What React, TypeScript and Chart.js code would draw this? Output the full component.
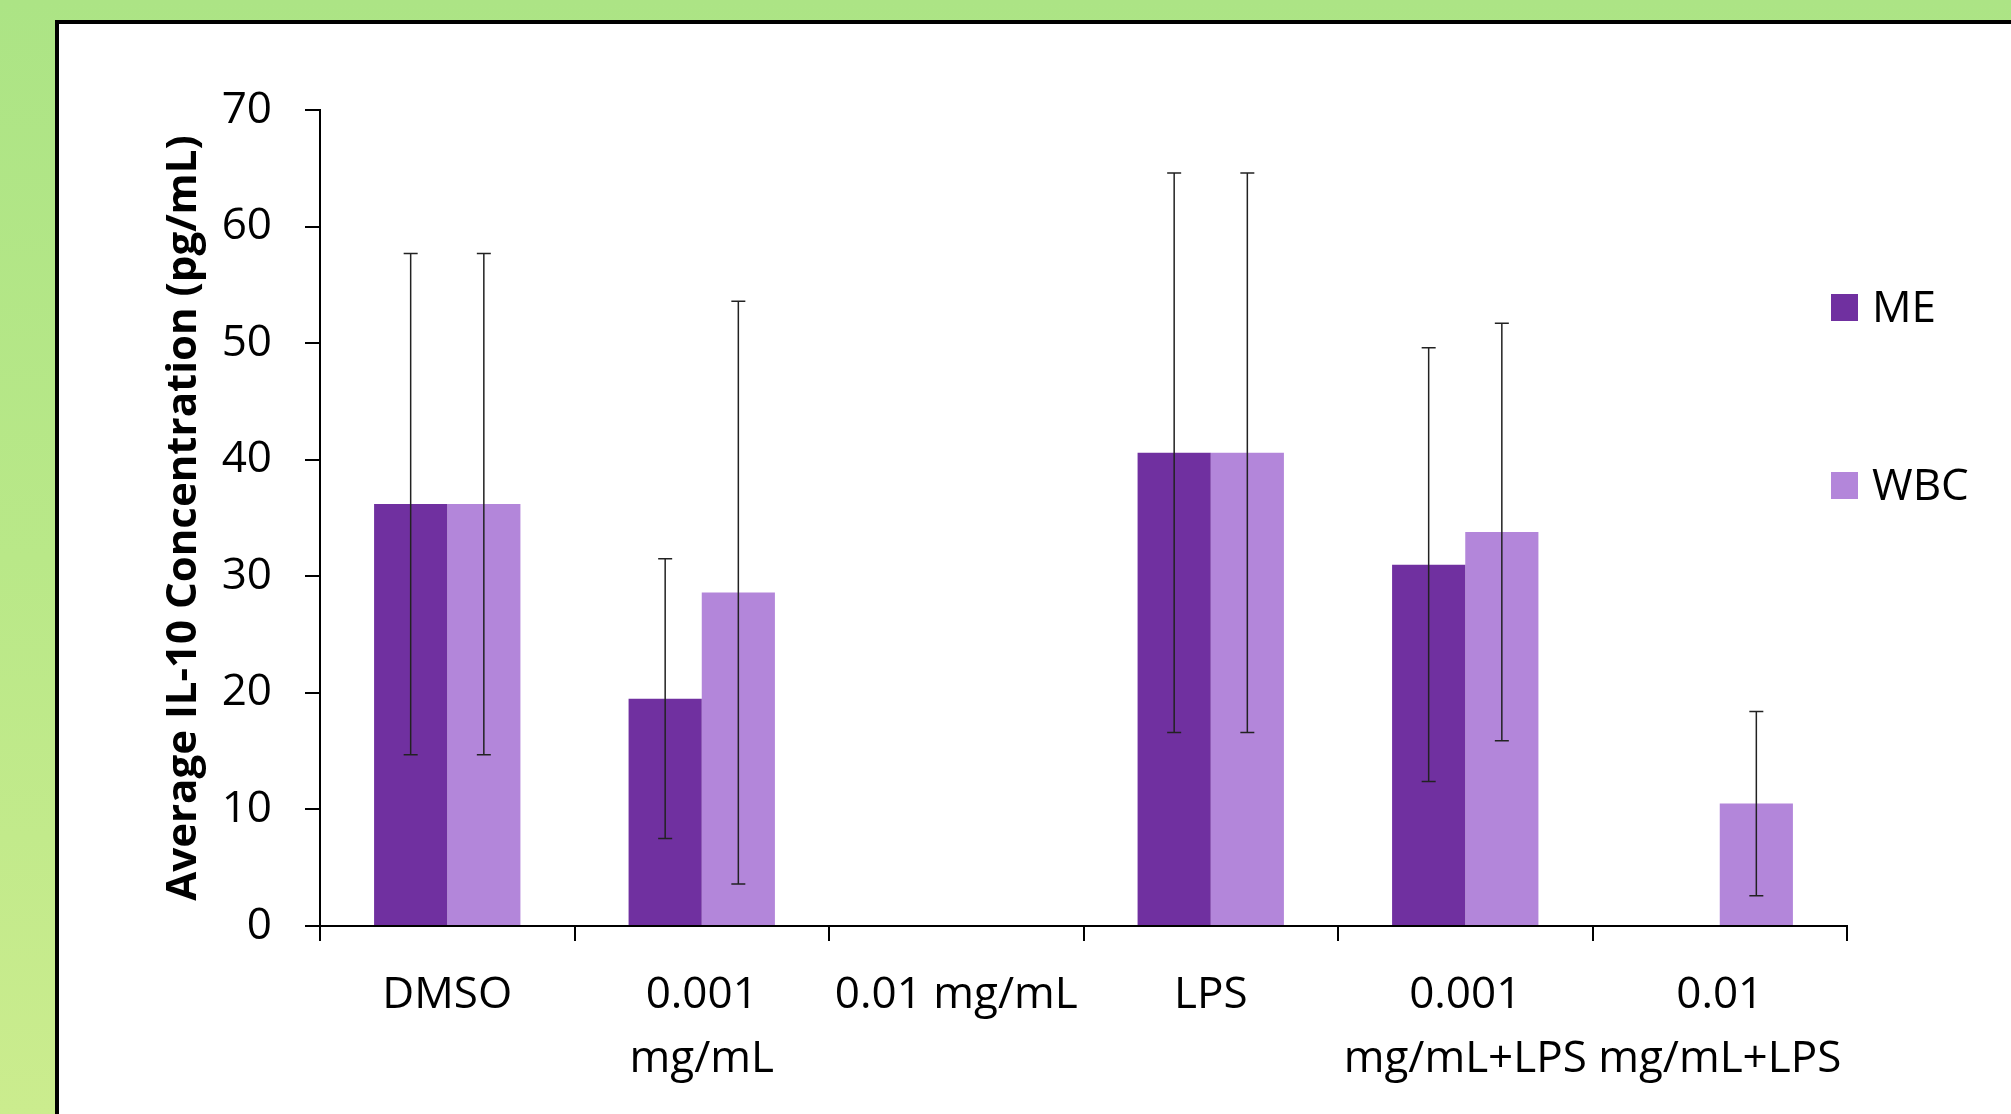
import React, { useEffect, useRef } from "react";
import { Chart, registerables } from "chart.js";

Chart.register(...registerables);

const categories: (string | string[])[] = [
  "DMSO",
  ["0.001", "mg/mL"],
  "0.01 mg/mL",
  "LPS",
  ["0.001", "mg/mL+LPS"],
  ["0.01", "mg/mL+LPS"],
];
const seriesNames = ["ME", "WBC"];
const meValues = [36.2, 19.5, null, 40.6, 31.0, null];
const meErrors = [21.5, 12.0, null, 24.0, 18.6, null];
const wbcValues = [36.2, 28.6, null, 40.6, 33.8, 10.5];
const wbcErrors = [21.5, 25.0, null, 24.0, 17.9, 7.9];
const yTicks = [0, 10, 20, 30, 40, 50, 60, 70];
const yTitle = "Average IL-10 Concentration (pg/mL)";

const colors = ["#7030A0", "#B386DA"];
const FONT = "'Open Sans', 'Noto Sans', sans-serif";

const errorBarPlugin = {
  id: "errorBars",
  afterDatasetsDraw(chart: any) {
    const ctx = chart.ctx;
    const yScale = chart.scales.y;
    chart.data.datasets.forEach((ds: any, i: number) => {
      const meta = chart.getDatasetMeta(i);
      const errs = ds.errors as (number | null)[];
      meta.data.forEach((bar: any, j: number) => {
        const v = ds.data[j];
        const e = errs[j];
        if (v == null || e == null) return;
        const x = bar.x;
        const yTop = yScale.getPixelForValue(v + e);
        const yBot = yScale.getPixelForValue(Math.max(v - e, 0));
        ctx.save();
        ctx.strokeStyle = "#222";
        ctx.lineWidth = 1.5;
        ctx.beginPath();
        ctx.moveTo(x, yTop);
        ctx.lineTo(x, yBot);
        ctx.moveTo(x - 7, yTop);
        ctx.lineTo(x + 7, yTop);
        ctx.moveTo(x - 7, yBot);
        ctx.lineTo(x + 7, yBot);
        ctx.stroke();
        ctx.restore();
      });
    });
  },
};

const legendPlugin = {
  id: "customLegend",
  afterDraw(chart: any) {
    const ctx = chart.ctx;
    const x0 = chart.chartArea.right - 16;
    const ys = [283.5, 461.5];
    ctx.save();
    chart.data.datasets.forEach((ds: any, i: number) => {
      const cy = ys[i];
      ctx.fillStyle = ds.backgroundColor;
      ctx.fillRect(x0, cy - 13.5, 27, 27);
      ctx.fillStyle = "#000";
      ctx.font = `44px ${FONT}`;
      ctx.textAlign = "left";
      ctx.textBaseline = "middle";
      ctx.fillText(ds.label, x0 + 41, cy + 2);
    });
    ctx.restore();
  },
};

export default function App() {
  const ref = useRef<HTMLCanvasElement | null>(null);
  useEffect(() => {
    if (!ref.current) return;
    const chart = new Chart(ref.current, {
      type: "bar",
      data: {
        labels: categories,
        datasets: [
          {
            label: seriesNames[0],
            data: meValues,
            errors: meErrors,
            backgroundColor: colors[0],
            borderWidth: 0,
          } as any,
          {
            label: seriesNames[1],
            data: wbcValues,
            errors: wbcErrors,
            backgroundColor: colors[1],
            borderWidth: 0,
          } as any,
        ],
      },
      options: {
        responsive: false,
        animation: false,
        devicePixelRatio: 1,
        layout: { padding: { top: 86, right: 164, left: 0, bottom: 0 } },
        datasets: { bar: { categoryPercentage: 0.575, barPercentage: 1.0 } },
        plugins: {
          legend: { display: false },
          tooltip: { enabled: false },
        },
        scales: {
          x: {
            offset: true,
            grid: {
              offset: true,
              display: true,
              drawOnChartArea: false,
              drawTicks: true,
              tickLength: 15,
              color: "#000",
              lineWidth: 2,
            },
            border: { display: true, color: "#000", width: 2 },
            ticks: {
              color: "#000",
              padding: 22,
              maxRotation: 0,
              autoSkip: false,
              font: { family: FONT, size: 44, lineHeight: 1.4545 },
            },
            afterFit(scale: any) {
              scale.height = 188;
            },
          },
          y: {
            min: 0,
            max: 70,
            afterBuildTicks(scale: any) {
              scale.ticks = yTicks.map((v) => ({ value: v }));
            },
            grid: {
              display: true,
              drawOnChartArea: false,
              drawTicks: true,
              tickLength: 15,
              color: "#000",
              lineWidth: 2,
            },
            border: { display: true, color: "#000", width: 2 },
            ticks: {
              color: "#000",
              padding: 33,
              font: { family: FONT, size: 44 },
            },
            title: {
              display: true,
              text: yTitle,
              color: "#000",
              padding: { top: 100, bottom: 0 },
              font: { family: FONT, size: 42, weight: "bold", lineHeight: 1.2 },
            },
            afterFit(scale: any) {
              scale.width = 261;
            },
          },
        },
      } as any,
      plugins: [errorBarPlugin, legendPlugin],
    });
    return () => chart.destroy();
  }, []);

  return (
    <div
      style={{
        position: "absolute",
        left: 0,
        top: 0,
        width: 2011,
        height: 1114,
        overflow: "hidden",
        background: "linear-gradient(180deg, #ace485 0%, #b9e888 50%, #cbec8e 100%)",
      }}
    >
      <div
        style={{
          position: "absolute",
          left: 55,
          top: 20,
          right: 0,
          bottom: 0,
          background: "#fff",
          borderLeft: "4px solid #000",
          borderTop: "4px solid #000",
        }}
      >
        <canvas ref={ref} width={1952} height={1090} style={{ display: "block", width: 1952, height: 1090 }} />
      </div>
    </div>
  );
}
